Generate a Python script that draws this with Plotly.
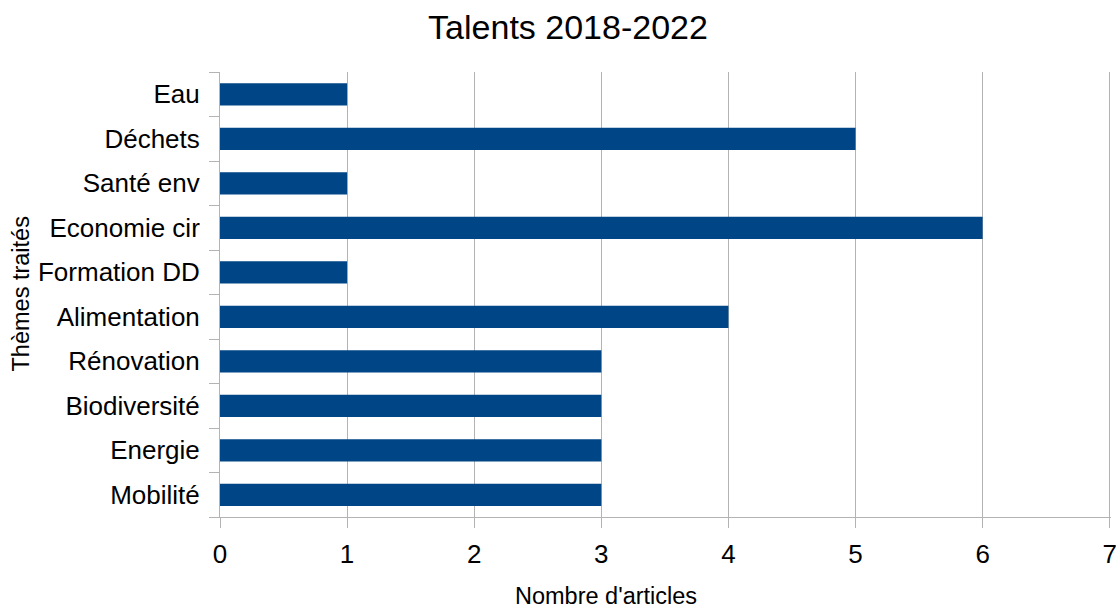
import plotly.graph_objects as go

categories = ["Mobilité", "Energie", "Biodiversité", "Rénovation", "Alimentation",
              "Formation DD", "Economie cir", "Santé env", "Déchets", "Eau"]
values = [3, 3, 3, 3, 4, 1, 6, 1, 5, 1]
x_ticks = [0, 1, 2, 3, 4, 5, 6, 7]

FONT = "Liberation Sans, Arial, sans-serif"
GRID = "#b3b3b3"

fig = go.Figure(go.Bar(
    x=values, y=categories, orientation="h",
    marker=dict(color="#004586", line=dict(width=0)),
    width=0.5,
))

PW = 891  # plot width in px
fig.update_layout(
    width=1116, height=609,
    margin=dict(l=220, r=5, t=72, b=92, autoexpand=False),
    paper_bgcolor="white", plot_bgcolor="white",
    font=dict(family=FONT, color="black"),
    showlegend=False,
    title=dict(text="Talents 2018-2022", xref="container", x=568 / 1116, xanchor="center",
               y=0.955, yanchor="middle", font=dict(size=34, family=FONT)),
    xaxis=dict(
        range=[0, 7.01], tickvals=x_ticks, showgrid=True, gridcolor=GRID, gridwidth=1,
        zeroline=False, showline=True, linecolor=GRID, linewidth=1,
        ticks="outside", ticklen=10, tickcolor=GRID, tickfont=dict(size=26),
        ticklabelstandoff=4, automargin=False, ticklabeloverflow="allow",
    ),
    yaxis=dict(
        type="category", categoryorder="array", categoryarray=categories,
        showgrid=False, showline=True, linecolor=GRID, linewidth=1, zeroline=False,
        ticks="outside", ticklen=10, tickcolor=GRID, tickson="boundaries",
        tickfont=dict(size=26), ticklabelstandoff=14, automargin=False,
    ),
    annotations=[
        dict(text="Thèmes traités", textangle=-90, xref="paper", yref="paper",
             x=(20 - 220) / PW, y=0.5, xanchor="center", yanchor="middle",
             showarrow=False, font=dict(size=23.5, family=FONT)),
        dict(text="Nombre d'articles", xref="paper", yref="paper",
             x=(606 - 220) / PW, y=(517 - 611) / 445, xanchor="center", yanchor="bottom",
             showarrow=False, font=dict(size=23.5, family=FONT)),
    ],
)

fig.write_html("out.html")
